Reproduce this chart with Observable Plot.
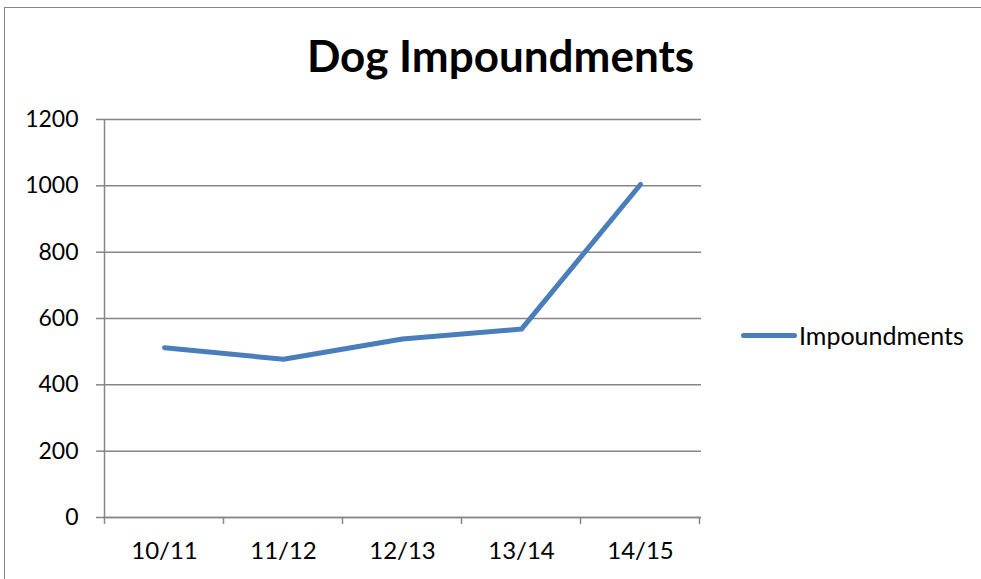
<!DOCTYPE html>
<html>
<head>
<meta charset="utf-8">
<script src="https://cdn.jsdelivr.net/npm/d3@7"></script>
<script src="https://cdn.jsdelivr.net/npm/@observablehq/plot@0.6"></script>
<style>
  html, body { margin: 0; padding: 0; background: #fff; }
  #wrap { position: relative; width: 981px; height: 579px; overflow: hidden; }
  #frame { position: absolute; left: 4px; top: 7px; width: 1000px; height: 600px;
           border-left: 1.5px solid #868686; border-top: 1.5px solid #868686; box-sizing: border-box; }
  #legend { position: absolute; left: 741px; top: 320px; font-family: Lato, "Open Sans", sans-serif;
            font-size: 25px; color: #000; display: flex; align-items: center; }
  #legend .sw { width: 56px; height: 5px; background: #4a7ebb; border-radius: 3px; margin-right: 2px; }
  svg { position: absolute; left: 0; top: 0; }
</style>
</head>
<body>
<div id="wrap">
  <div id="frame"></div>
  <div id="legend"><span class="sw"></span><span id="legendLabel"></span></div>
</div>
<script>
const title = "Dog Impoundments";
const seriesName = "Impoundments";
const seasons = ["10/11", "11/12", "12/13", "13/14", "14/15"];
const impoundments = [512, 477, 538, 568, 1004];
const yTicks = [0, 200, 400, 600, 800, 1000, 1200];

const data = seasons.map((s, i) => ({season: s, value: impoundments[i]}));
document.getElementById("legendLabel").textContent = seriesName;

const chart = Plot.plot({
  width: 981,
  height: 579,
  marginLeft: 103,
  marginRight: 280,
  marginTop: 119,
  marginBottom: 62,
  style: {fontFamily: "Lato, 'Open Sans', sans-serif", fontSize: "22px", color: "#000", background: "transparent"},
  x: {type: "point", domain: seasons, padding: 0.5, label: null, axis: null},
  y: {domain: [0, 1200], label: null, axis: null},
  marks: [
    Plot.gridY(yTicks, {stroke: "#868686", strokeOpacity: 1, strokeWidth: 1.5}),
    Plot.axisY(yTicks, {tickSize: 7, tickPadding: 18, tickFormat: "d", stroke: "#868686", strokeWidth: 1.5, fontSize: 23, fill: "#000", label: null}),
    Plot.axisX(seasons, {tickSize: 0, tickPadding: 34, fontSize: 24, fill: "#000", label: null, lineAnchor: "middle"}),
    Plot.ruleY([0], {stroke: "#868686", strokeWidth: 1.5}),
    Plot.text([title], {frameAnchor: "top", lineAnchor: "middle", dx: 98, dy: -62, fontSize: 44, fontWeight: "bold", fill: "#000", text: d => d}),
    Plot.line(data, {x: "season", y: "value", stroke: "#4a7ebb", strokeWidth: 5, strokeLinecap: "round", strokeLinejoin: "round"})
  ]
});

// left axis line and category boundary tick marks positioned from the scales
const svg = d3.select(chart);
const xs = chart.scale("x");
const ys = chart.scale("y");
const step = (xs.apply(seasons[1]) - xs.apply(seasons[0]));
const x0 = xs.apply(seasons[0]) - step / 2;
const y0 = ys.apply(0), yTop = ys.apply(1200);
const g = svg.append("g").attr("stroke", "#868686").attr("stroke-width", 1.5);
g.append("line").attr("x1", x0).attr("x2", x0).attr("y1", yTop).attr("y2", y0);
d3.range(seasons.length + 1).forEach(i => {
  const x = x0 + i * step;
  g.append("line").attr("x1", x).attr("x2", x).attr("y1", y0).attr("y2", y0 + 7);
});
svg.select("g[aria-label='line']").raise();
document.getElementById("wrap").appendChild(chart);
</script>
</body>
</html>
